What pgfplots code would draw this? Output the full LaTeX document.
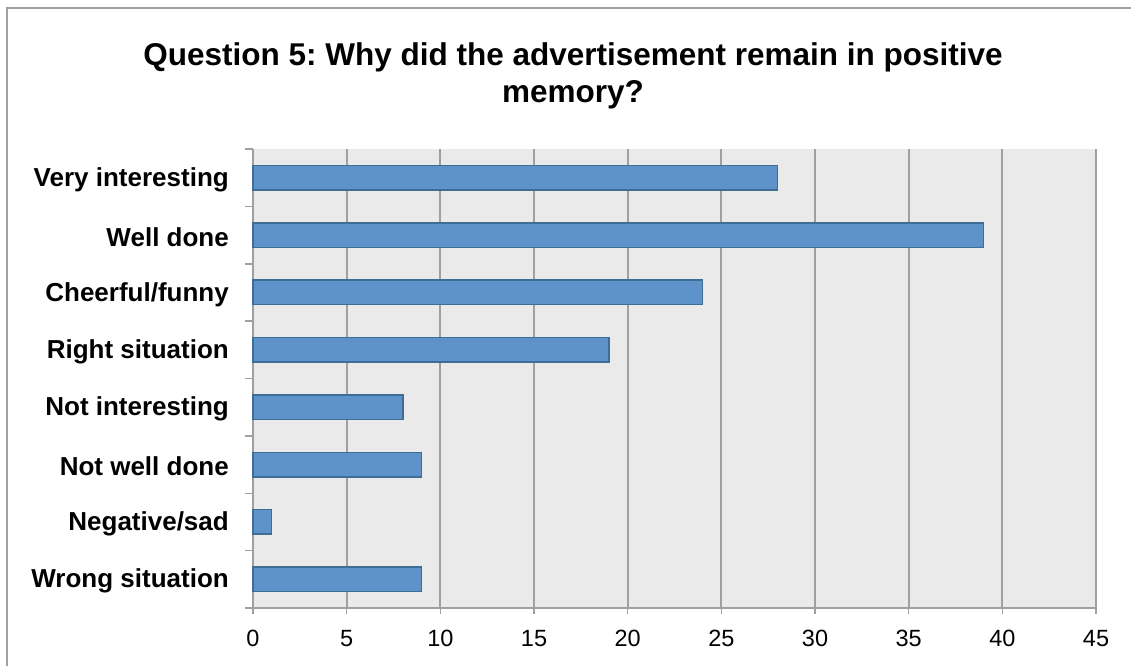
\documentclass[border=0pt]{standalone}
\usepackage{fontspec}
\setmainfont{Liberation Sans}
\usepackage{pgfplots}
\pgfplotsset{compat=1.18}
\frenchspacing
\definecolor{barfill}{RGB}{93,147,201}
\definecolor{baredge}{RGB}{64,108,152}
\definecolor{gridc}{RGB}{160,160,160}
\definecolor{axisc}{RGB}{160,160,160}
\definecolor{plotbg}{RGB}{234,234,234}
\begin{document}
\begin{tikzpicture}[x=1pt,y=1pt]
\useasboundingbox (0,0) rectangle (1131,666);
\fill[white] (0,0) rectangle (1131,666);
\draw[axisc, line width=1.5pt] (7,0) -- (7,658) -- (1131,658);
\node[font=\fontsize{31.5}{37}\selectfont\bfseries, anchor=base] at (573,600) {Question 5: Why did the advertisement remain in positive};
\node[font=\fontsize{31.5}{37}\selectfont\bfseries, anchor=base] at (573,563) {memory?};
\begin{axis}[
  at={(253pt,58pt)}, anchor=south west,
  scale only axis, width=843pt, height=459pt,
  xmin=0, xmax=45, ymin=0.5, ymax=8.5, y dir=reverse,
  axis x line*=bottom, axis y line*=left,
  axis line style={axisc, line width=1.5pt},
  axis background/.style={fill=plotbg},
  xmajorgrids, grid style={gridc, line width=1.8pt},
  xtick={0,5,...,45},
  ytick={1,...,8},
  yticklabels={Very interesting,Well done,Cheerful/funny,Right situation,Not interesting,Not well done,Negative/sad,Wrong situation},
  minor ytick={0.5,1.5,...,8.5},
  tick align=outside,
  major tick length=6pt, minor tick length=8pt,
  every major y tick/.append style={draw=none},
  every tick/.append style={axisc, line width=1.5pt},
  every minor y tick/.append style={axisc, line width=1.5pt},
  yticklabel style={font=\fontsize{26}{30}\selectfont\bfseries, anchor=east, inner sep=0pt, xshift=-18pt, yshift=-2pt},
  xticklabel style={font=\fontsize{23.5}{28}\selectfont, anchor=north, inner sep=0pt, yshift=-16pt},
  /pgf/number format/assume math mode=true,
  clip=false,
]
\addplot[xbar, bar width=24.5pt, bar shift=0pt, fill=barfill, draw=baredge, line width=1.5pt]
  coordinates {(28,1) (39,2) (24,3) (19,4) (8,5) (9,6) (1,7) (9,8)};
\end{axis}
\end{tikzpicture}
\end{document}
